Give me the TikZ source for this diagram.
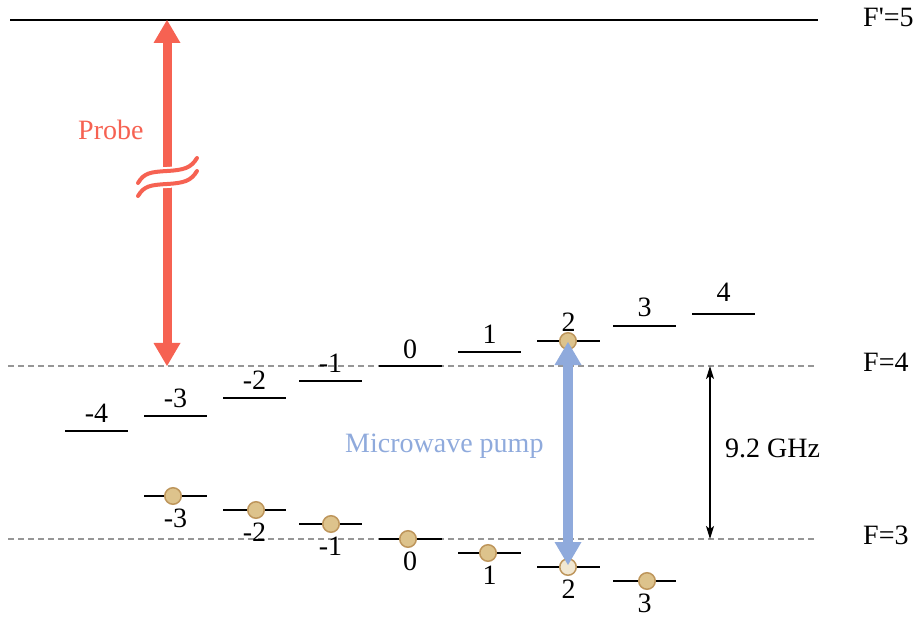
\documentclass[tikz,border=0pt]{standalone}
\usepackage{fontspec}
\setmainfont{Liberation Serif}
\newfontfamily\plainserif{Liberation Serif}
\usetikzlibrary{arrows.meta}
\definecolor{probecol}{RGB}{246,98,82}
\definecolor{mwcol}{RGB}{143,170,220}
\definecolor{atomfill}{RGB}{221,195,140}
\definecolor{atomdraw}{RGB}{190,150,92}
\definecolor{dashgray}{RGB}{150,150,150}
\begin{document}
\begin{tikzpicture}[x=1pt,y=-1pt,
  levelline/.style={line width=2pt,black},
  grayline/.style={line width=1.5pt,dashgray,dash pattern=on 6pt off 4pt},
  lbl/.style={inner sep=0pt,anchor=base,font=\fontsize{28}{30}\selectfont},
  lblw/.style={inner sep=0pt,anchor=base west,font=\fontsize{28}{30}\selectfont},
  atom/.style={circle,minimum size=16.5pt,inner sep=0pt,fill=atomfill,draw=atomdraw,line width=1.5pt},
  ghost/.style={circle,minimum size=16.5pt,inner sep=0pt,fill=atomfill!40!white,draw=atomdraw,line width=1.5pt},
  probearrow/.style={draw=probecol,line width=9pt,
    {Triangle[width=27pt,length=23pt,line width=0pt]}-{Triangle[width=27pt,length=23pt,line width=0pt]}},
  mwarrow/.style={draw=mwcol,line width=10pt,
    {Triangle[width=27pt,length=23pt,line width=0pt]}-{Triangle[width=27pt,length=23pt,line width=0pt]}},
  gaparrow/.style={black,line width=1.5pt,
    {Stealth[length=13pt,width=8pt,inset=3pt]}-{Stealth[length=13pt,width=8pt,inset=3pt]}},
  wave/.style={probecol,line width=4pt},
  wavehalo/.style={white,line width=8pt}
]
\useasboundingbox (0,0) rectangle (915,617);

% main levels
\coordinate (topL) at (10,20);
\coordinate (topR) at (818,20);
\draw[line width=2pt,black] (topL) -- (topR);
\coordinate (f4L) at (8,366);
\coordinate (f4R) at (816,366);
\draw[grayline] (f4L) -- (f4R);
\coordinate (f3L) at (8,539);
\coordinate (f3R) at (816,539);
\draw[grayline] (f3L) -- (f3R);

\node[lblw] (lF5) at (863,27) {\plainserif F'=5};
\node[lblw] (lF4) at (863,371) {F=4};
\node[lblw] (lF3) at (863,544) {F=3};

% F=4 sublevels
\foreach \n/\t/\x/\y/\d in {m4/-4/96.5/431/9, m3/-3/175.5/416/9, m2/-2/254.5/398/9,
  m1/-1/330.5/381/9, 0/0/410/366/8, 1/1/489.5/352/9, 2/2/568.5/341/10,
  3/3/644.5/326/9, 4/4/723.5/314/12} {
  \coordinate (u\n L) at (\x-31.5,\y);
  \coordinate (u\n R) at (\x+31.5,\y);
  \draw[levelline] (u\n L) -- (u\n R);
  \node[lbl] (ul\n) at (\x,\y-\d) {\t};
}

% F=3 sublevels
\foreach \n/\t/\x/\y in {m3/-3/175.5/496, m2/-2/254.5/510, m1/-1/330.5/524,
  0/0/410/539, 1/1/489.5/553, 2/2/568.5/567, 3/3/644.5/581} {
  \coordinate (l\n L) at (\x-31.5,\y);
  \coordinate (l\n R) at (\x+31.5,\y);
  \draw[levelline] (l\n L) -- (l\n R);
  \node[lbl] (ll\n) at (\x,\y+31) {\t};
}

% atoms
\node[atom] (am3) at (173,496) {};
\node[atom] (am2) at (256,510) {};
\node[atom] (am1) at (331,524) {};
\node[atom] (a0) at (408,539) {};
\node[atom] (a1) at (488,553) {};
\node[ghost] (a2) at (568,567) {};
\node[atom] (a3) at (647,581) {};
\node[atom] (au2) at (568,341) {};

% probe arrow
\coordinate (ptop) at (167,20);
\coordinate (pbot) at (167,366);
\draw[probearrow] (ptop) -- (pbot);
\fill[white] (138,183) .. controls (144,173) and (150,172) .. (167,171)
  .. controls (184,170) and (191,168) .. (197,158) -- (197,171)
  .. controls (191,181) and (184,183) .. (167,184)
  .. controls (150,185) and (144,186) .. (138,196) -- cycle;
\draw[wavehalo] (138,183) .. controls (144,173) and (150,172) .. (167,171)
  .. controls (184,170) and (191,168) .. (197,158);
\draw[wavehalo] (138,196) .. controls (144,186) and (150,185) .. (167,184)
  .. controls (184,183) and (191,181) .. (197,171);
\draw[wave,line cap=round] (138,183) .. controls (144,173) and (150,172) .. (167,171)
  .. controls (184,170) and (191,168) .. (197,158);
\draw[wave,line cap=round] (138,196) .. controls (144,186) and (150,185) .. (167,184)
  .. controls (184,183) and (191,181) .. (197,171);
\node[lblw,text=probecol] (probe) at (78,140) {Probe};

% microwave arrow
\coordinate (mtop) at (568,342);
\coordinate (mbot) at (568,565);
\draw[mwarrow] (mtop) -- (mbot);
\node[lblw,text=mwcol] (mwlbl) at (345,452) {Microwave pump};

% hyperfine splitting
\coordinate (gtop) at (710,366);
\coordinate (gbot) at (710,539);
\draw[gaparrow] (gtop) -- (gbot);
\node[lblw] (ghz) at (725,457) {9.2 GHz};
\end{tikzpicture}
\end{document}
